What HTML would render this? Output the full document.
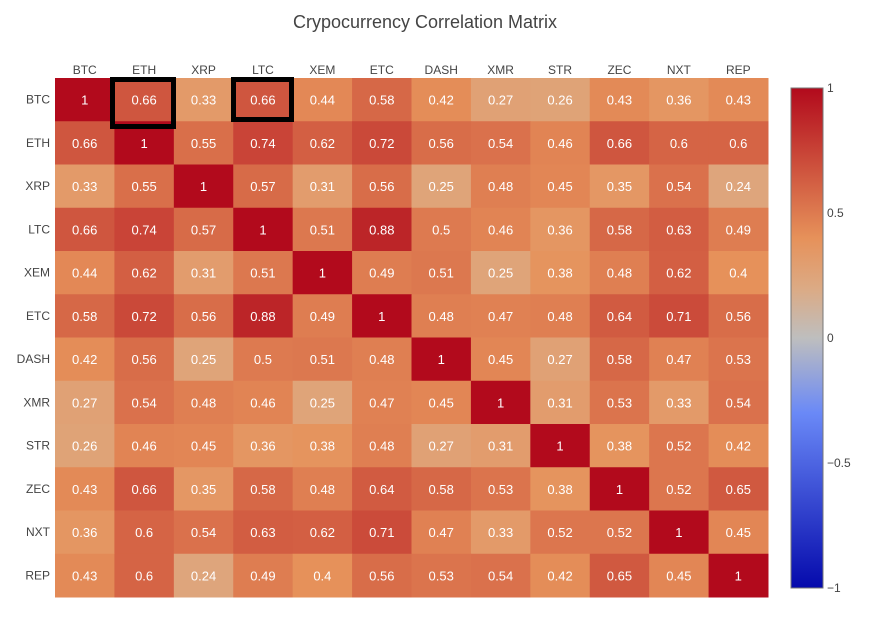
<!DOCTYPE html>
<html><head><meta charset="utf-8"><style>
body{margin:0;background:#fff;font-family:"Liberation Sans",sans-serif}
</style></head><body>
<svg id="c" width="869" height="623" xmlns="http://www.w3.org/2000/svg">
<text x="425" y="28" text-anchor="middle" font-size="18" fill="#444">Crypocurrency Correlation Matrix</text>
<defs><linearGradient id="cb" x1="0" y1="1" x2="0" y2="0">
<stop offset="0" stop-color="rgb(5,10,172)"/><stop offset="0.35" stop-color="rgb(106,137,247)"/><stop offset="0.5" stop-color="rgb(190,190,190)"/><stop offset="0.6" stop-color="rgb(220,170,132)"/><stop offset="0.7" stop-color="rgb(230,145,90)"/><stop offset="1" stop-color="rgb(178,10,28)"/></linearGradient></defs>
<g id="cells"></g>
<rect x="791" y="88" width="32" height="500" fill="url(#cb)" stroke="#777" stroke-width="1"/>
<g id="cbt" font-size="12" fill="#444"></g>
<rect x="112.5" y="79.5" width="61" height="47" fill="none" stroke="#000" stroke-width="5"/>
<rect x="233.5" y="79.5" width="58" height="40" fill="none" stroke="#000" stroke-width="5"/>
</svg>
<script>
const labels=["BTC","ETH","XRP","LTC","XEM","ETC","DASH","XMR","STR","ZEC","NXT","REP"];
const values=[
[1,0.66,0.33,0.66,0.44,0.58,0.42,0.27,0.26,0.43,0.36,0.43],
[0.66,1,0.55,0.74,0.62,0.72,0.56,0.54,0.46,0.66,0.6,0.6],
[0.33,0.55,1,0.57,0.31,0.56,0.25,0.48,0.45,0.35,0.54,0.24],
[0.66,0.74,0.57,1,0.51,0.88,0.5,0.46,0.36,0.58,0.63,0.49],
[0.44,0.62,0.31,0.51,1,0.49,0.51,0.25,0.38,0.48,0.62,0.4],
[0.58,0.72,0.56,0.88,0.49,1,0.48,0.47,0.48,0.64,0.71,0.56],
[0.42,0.56,0.25,0.5,0.51,0.48,1,0.45,0.27,0.58,0.47,0.53],
[0.27,0.54,0.48,0.46,0.25,0.47,0.45,1,0.31,0.53,0.33,0.54],
[0.26,0.46,0.45,0.36,0.38,0.48,0.27,0.31,1,0.38,0.52,0.42],
[0.43,0.66,0.35,0.58,0.48,0.64,0.58,0.53,0.38,1,0.52,0.65],
[0.36,0.6,0.54,0.63,0.62,0.71,0.47,0.33,0.52,0.52,1,0.45],
[0.43,0.6,0.24,0.49,0.4,0.56,0.53,0.54,0.42,0.65,0.45,1]];
const cbTicks=[1,0.5,0,-0.5,-1];
const cbLabels=["1","0.5","0","\u22120.5","\u22121"];
const ns="http://www.w3.org/2000/svg";
const X0=55,Y0=78,W=713,H=519;
const cw=W/labels.length,ch=H/labels.length;
const xs=i=>X0+i*cw, ys=j=>Y0+j*ch;
const stops=[[0,[5,10,172]],[0.35,[106,137,247]],[0.5,[190,190,190]],[0.6,[220,170,132]],[0.7,[230,145,90]],[1,[178,10,28]]];
function color(v){const t=(v+1)/2;for(let k=1;k<stops.length;k++){if(t<=stops[k][0]){const a=stops[k-1],b=stops[k];const f=(t-a[0])/(b[0]-a[0]);return "rgb("+a[1].map((c,i)=>Math.round(c+(b[1][i]-c)*f)).join(",")+")";}}return "rgb(178,10,28)";}
const g=document.getElementById("cells");
function mk(tag,attrs,txt){const e=document.createElementNS(ns,tag);for(const k in attrs)e.setAttribute(k,attrs[k]);if(txt!==undefined)e.textContent=txt;return e;}
values.forEach((row,j)=>row.forEach((v,i)=>{
const r=mk("rect",{x:xs(i),y:ys(j),width:cw+0.5,height:ch+0.5,fill:color(v)});


g.appendChild(r);
const t=mk("text",{x:xs(i)+cw/2,y:ys(j)+ch/2+5,"text-anchor":"middle","font-size":"13",fill:"#fff"},String(v));


g.appendChild(t);
}));
labels.forEach((l,i)=>{
const t=mk("text",{x:xs(i)+cw/2,y:74,"text-anchor":"middle","font-size":"12",fill:"#444"},l);


g.appendChild(t);
const u=mk("text",{x:50,y:ys(i)+ch/2+4,"text-anchor":"end","font-size":"12",fill:"#444"},l);


g.appendChild(u);
});
const cbt=document.getElementById("cbt");
cbTicks.forEach((v,k)=>{
const t=mk("text",{x:827,y:88+(1-v)/2*500+4},cbLabels[k]);


cbt.appendChild(t);
});
</script>
</body></html>
